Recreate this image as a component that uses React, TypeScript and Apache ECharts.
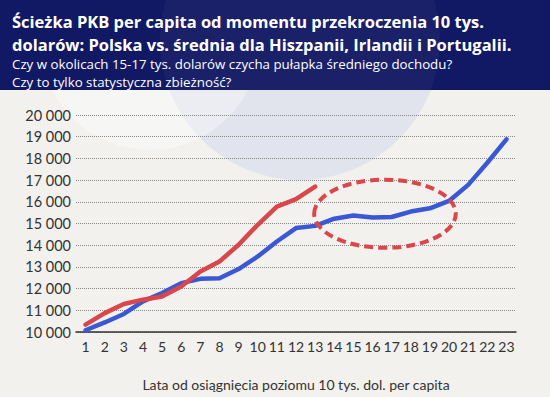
import React, { useEffect, useRef } from "react";
import * as echarts from "echarts";

const years = ["1","2","3","4","5","6","7","8","9","10","11","12","13","14","15","16","17","18","19","20","21","22","23"];
const polska = [10080, 10440, 10830, 11410, 11800, 12250, 12450, 12480, 12900, 13480, 14170, 14790, 14890, 15220, 15370, 15280, 15300, 15550, 15700, 16040, 16780, 17800, 18880];
const srednia = [10340, 10870, 11290, 11490, 11640, 12100, 12790, 13250, 14020, 14940, 15780, 16120, 16700];
const titleLines = [
  "Ścieżka PKB per capita od momentu przekroczenia 10 tys.",
  "dolarów: Polska vs. średnia dla Hiszpanii, Irlandii i Portugalii.",
];
const subtitleLines = [
  "Czy w okolicach 15-17 tys. dolarów czycha pułapka średniego dochodu?",
  "Czy to tylko statystyczna zbieżność?",
];
const xAxisTitle = "Lata od osiągnięcia poziomu 10 tys. dol. per capita";
// highlighted zone (category position, value)
const zoneCenter = [16.65, 15450];
const zoneHalf = [3.7, 1570];

export default function App() {
  const ref = useRef<HTMLDivElement>(null);
  useEffect(() => {
    const chart = echarts.init(ref.current!, null, { renderer: "svg" });
    const bg = [
      { type: "rect", shape: { x: 0, y: 0, width: 550, height: 397 }, style: { fill: "#f2f1ee" }, z: -10 },
      { type: "circle", shape: { cx: 300, cy: 40, r: 140 }, style: { fill: "rgba(205,212,235,0.45)" }, z: -9 },
      { type: "circle", shape: { cx: 150, cy: 40, r: 110 }, style: { fill: "rgba(255,255,255,0.35)" }, z: -9 },
      { type: "rect", shape: { x: 0, y: 0, width: 550, height: 90 }, style: { fill: "#121964" }, z: -5 },
      { type: "circle", shape: { cx: 300, cy: 40, r: 140 }, style: { fill: "rgba(255,255,255,0.035)" }, z: -4 },
    ];
    const texts = [
      { type: "text", x: 12, y: 21, style: { text: titleLines[0], fill: "#ffffff", font: "bold 16.5px 'Open Sans'", textVerticalAlign: "middle" }, z: 10 },
      { type: "text", x: 12, y: 44, style: { text: titleLines[1], fill: "#ffffff", font: "bold 16.5px 'Open Sans'", textVerticalAlign: "middle" }, z: 10 },
      { type: "text", x: 12, y: 64, style: { text: subtitleLines[0], fill: "#ffffff", font: "13.3px 'Open Sans'", textVerticalAlign: "middle" }, z: 10 },
      { type: "text", x: 12, y: 82, style: { text: subtitleLines[1], fill: "#ffffff", font: "13.3px 'Open Sans'", textVerticalAlign: "middle" }, z: 10 },
    ];
    const option: any = {
      animation: false,
      grid: { left: 76, right: 34, top: 115, bottom: 65, containLabel: false },
      xAxis: {
        type: "category",
        data: years,
        boundaryGap: true,
        name: xAxisTitle,
        nameLocation: "middle",
        nameGap: 45,
        nameTextStyle: { color: "#333", fontFamily: "Lato", fontSize: 14 },
        axisLine: { lineStyle: { color: "#333", width: 1.5 } },
        axisTick: { show: false },
        axisLabel: { color: "#333", fontFamily: "Lato", fontSize: 14, margin: 7, interval: 0 },
      },
      yAxis: {
        type: "value",
        min: 10000,
        max: 20000,
        interval: 1000,
        axisLine: { show: false },
        axisTick: { show: false },
        axisLabel: {
          color: "#333", fontFamily: "Lato", fontSize: 14.5, margin: 5,
          formatter: (v: number) => (v / 1000).toFixed(0) + " 000",
        },
        splitLine: { lineStyle: { color: "#888", type: [1, 1], width: 1 } },
      },
      series: [
        { type: "line", data: polska, symbol: "none", lineStyle: { color: "#3b58d4", width: 4.5, cap: "round", join: "round" }, z: 3 },
        { type: "line", data: srednia, symbol: "none", lineStyle: { color: "#d9474b", width: 4.5, cap: "round", join: "round" }, z: 4 },
      ],
      graphic: [...bg, ...texts],
    };
    chart.setOption(option);
    const p1 = chart.convertToPixel({ xAxisIndex: 0 }, years[0]) as number;
    const p2 = chart.convertToPixel({ xAxisIndex: 0 }, years[1]) as number;
    const step = p2 - p1;
    const cx = p1 + (zoneCenter[0] - 1) * step;
    const cy = chart.convertToPixel({ yAxisIndex: 0 }, zoneCenter[1]) as number;
    const cyTop = chart.convertToPixel({ yAxisIndex: 0 }, zoneCenter[1] + zoneHalf[1]) as number;
    chart.setOption({
      graphic: [...bg, ...texts, {
        type: "ellipse",
        shape: { cx, cy, rx: zoneHalf[0] * step, ry: cy - cyTop },
        style: { fill: "none", stroke: "#d9474b", lineWidth: 4, lineDash: [9, 5] },
        z: 20,
      }],
    });
    return () => chart.dispose();
  }, []);
  return <div ref={ref} style={{ width: 550, height: 397, position: "absolute", left: 0, top: 0 }} />;
}
